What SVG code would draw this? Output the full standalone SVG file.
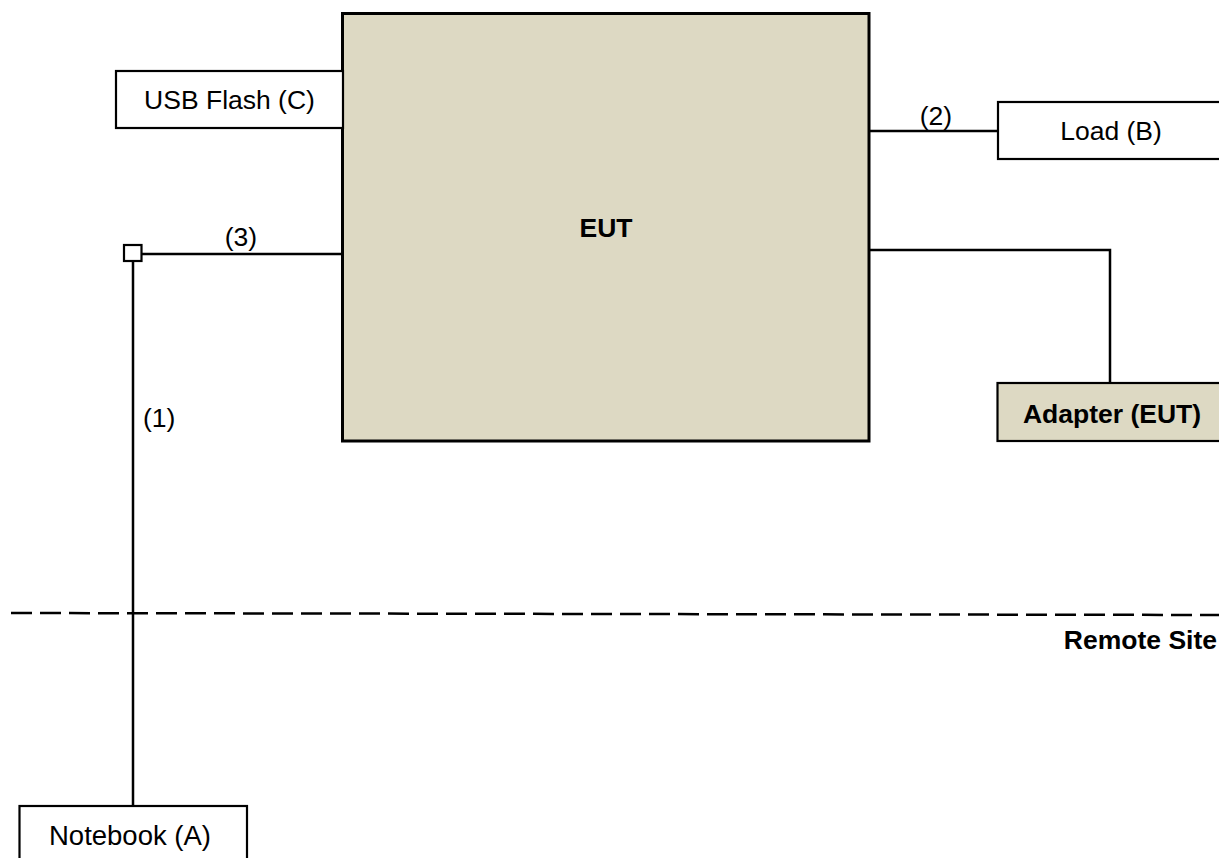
<svg xmlns="http://www.w3.org/2000/svg" width="1219" height="858" viewBox="0 0 1219 858">
<style>
.box{fill:#ffffff;stroke:#000000;stroke-width:2.2}
.tan{fill:#DDD9C3;stroke:#000000;stroke-width:2.2}
.eut{fill:#DDD9C3;stroke:#000000;stroke-width:3}
.ln{fill:none;stroke:#000000;stroke-width:2.5}
.dash{fill:none;stroke:#000000;stroke-width:2.5;stroke-dasharray:21 8}
text{font-family:"Liberation Sans",Arial,sans-serif;font-size:26.5px;fill:#000000}
.b{font-weight:bold}
.c{text-anchor:middle}
</style>
<rect width="1219" height="858" fill="#ffffff"/>
<g id="connectors">
<line class="ln" x1="133" y1="260" x2="133" y2="806"/>
<line class="ln" x1="142" y1="254" x2="342" y2="254"/>
<line class="ln" x1="869" y1="131" x2="998" y2="131"/>
<polyline class="ln" points="869,250 1110,250 1110,382"/>
<line class="dash" x1="11" y1="613" x2="1219" y2="615"/>
<text x="241" y="246" class="c">(3)</text>
<text x="936" y="125" class="c">(2)</text>
<text x="143" y="427">(1)</text>
</g>
<g id="eut">
<rect class="eut" x="342.5" y="13.5" width="526.5" height="427.5"/>
<text x="606" y="237" class="c b">EUT</text>
</g>
<g id="usb">
<rect class="box" x="116" y="71" width="227" height="57"/>
<text x="229.5" y="109" class="c">USB Flash (C)</text>
</g>
<g id="load">
<rect class="box" x="998" y="102" width="230" height="57"/>
<text x="1111" y="140" class="c">Load (B)</text>
</g>
<g id="adapter">
<rect class="tan" x="997.5" y="383" width="230" height="58"/>
<text x="1112" y="423" class="c b">Adapter (EUT)</text>
</g>
<g id="connector-point">
<rect class="box" x="124" y="245" width="17.5" height="16"/>
</g>
<g id="notebook">
<rect class="box" x="19.5" y="806" width="227.5" height="60"/>
<text x="130" y="845" class="c" style="font-size:27.5px">Notebook (A)</text>
</g>
<g id="remote-site">
<text x="1217" y="649" class="b" text-anchor="end">Remote Site</text>
</g>
</svg>
